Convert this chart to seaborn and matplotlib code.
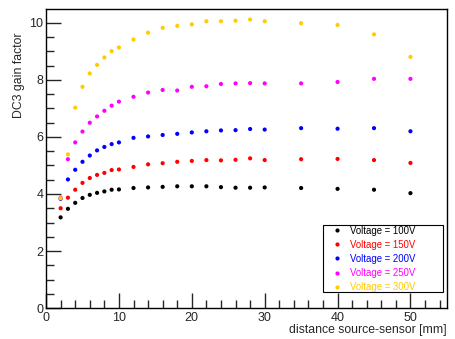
import numpy as np
import pandas as pd
import matplotlib
matplotlib.use("Agg")
import matplotlib.pyplot as plt
from matplotlib.ticker import MultipleLocator
from matplotlib.patches import Rectangle
import seaborn as sns

# Data
distance = [2, 3, 4, 5, 6, 7, 8, 9, 10, 12, 14, 16, 18, 20, 22, 24, 26, 28, 30, 35, 40, 45, 50]
gain_100 = [3.18, 3.48, 3.69, 3.86, 3.97, 4.04, 4.09, 4.15, 4.16, 4.21, 4.23, 4.25, 4.27, 4.27,
            4.27, 4.24, 4.22, 4.22, 4.23, 4.21, 4.18, 4.15, 4.03]
gain_150 = [3.50, 3.87, 4.15, 4.39, 4.56, 4.67, 4.74, 4.84, 4.86, 4.95, 5.04, 5.08, 5.13, 5.16,
            5.19, 5.18, 5.20, 5.25, 5.19, 5.22, 5.23, 5.19, 5.09]
gain_200 = [3.83, 4.51, 4.85, 5.13, 5.35, 5.53, 5.65, 5.75, 5.81, 5.97, 6.02, 6.07, 6.11, 6.16,
            6.20, 6.23, 6.24, 6.28, 6.26, 6.31, 6.29, 6.31, 6.20]
gain_250 = [3.87, 5.22, 5.81, 6.19, 6.50, 6.72, 6.92, 7.10, 7.24, 7.41, 7.56, 7.65, 7.63, 7.76,
            7.78, 7.86, 7.88, 7.89, 7.88, 7.88, 7.93, 8.04, 8.04]
gain_300 = [3.85, 5.39, 7.03, 7.76, 8.23, 8.53, 8.79, 9.01, 9.14, 9.42, 9.66, 9.83, 9.90, 9.95,
            10.06, 10.06, 10.08, 10.12, 10.06, 9.99, 9.93, 9.60, 8.81]
labels = ["Voltage = 100V", "Voltage = 150V", "Voltage = 200V", "Voltage = 250V", "Voltage = 300V"]
colors = ["black", "red", "blue", "magenta", "#ffcc00"]

# Long table for seaborn
series = [gain_100, gain_150, gain_200, gain_250, gain_300]
df = pd.concat([pd.DataFrame({"distance": distance, "gain": g, "voltage": lab})
                for g, lab in zip(series, labels)], ignore_index=True)

sns.set_style("white")
plt.rcParams['font.family'] = ['Liberation Sans', 'DejaVu Sans']

fig = plt.figure(figsize=(4.56, 3.39), dpi=100)
ax = fig.add_axes([0.101, 0.0914, 0.879, 0.8812])

sns.scatterplot(data=df, x="distance", y="gain", hue="voltage", hue_order=labels,
                palette=colors, s=9, linewidth=0, marker="o", ax=ax)

ax.set_xlim(0, 55)
ax.set_ylim(0, 10.48)

# ROOT-like ticks
ax.xaxis.set_major_locator(MultipleLocator(10))
ax.xaxis.set_minor_locator(MultipleLocator(2))
ax.yaxis.set_major_locator(MultipleLocator(2))
ax.yaxis.set_minor_locator(MultipleLocator(0.5))
ax.tick_params(which="major", direction="in", length=11, width=1, labelsize=9,
               bottom=True, left=True, top=False, right=False)
ax.tick_params(which="minor", direction="in", length=6, width=1,
               bottom=True, left=True, top=False, right=False)
ax.tick_params(axis="x", pad=3)
ax.tick_params(axis="y", pad=2)
for s in ax.spines.values():
    s.set_linewidth(1)
    s.set_color("black")

# Axis titles
ax.set_xlabel("distance source-sensor [mm]", fontsize=8.8, ha="right", va="top")
ax.xaxis.set_label_coords(1.0, -0.052)
ax.set_ylabel("DC3 gain factor", fontsize=8.8, ha="center", va="top")
ax.yaxis.set_label_coords(-0.083, 0.78)

# Legend (ROOT style fixed box)
leg = ax.legend(loc="upper left", bbox_to_anchor=(0.714, 0.276), fontsize=6.9,
                frameon=False, handlelength=1.0, handletextpad=0.9,
                borderpad=0, labelspacing=0.43, borderaxespad=0)
for text, c in zip(leg.get_texts(), colors):
    text.set_color(c)
ax.add_patch(Rectangle((0.691, 0.053), 0.299, 0.224, transform=ax.transAxes,
                       fill=False, edgecolor="black", linewidth=0.8, zorder=5))

fig.savefig("out.png", dpi=100)
